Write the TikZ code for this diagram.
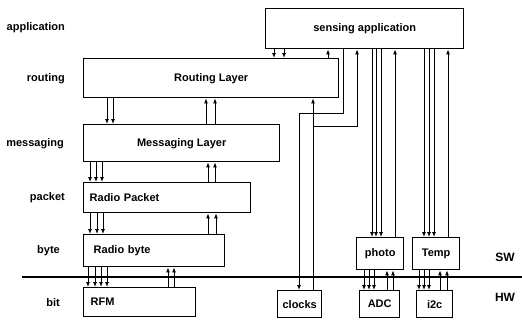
\documentclass[tikz,border=0pt]{standalone}
\usepackage{fontspec}
\setmainfont{Liberation Sans}
\usetikzlibrary{positioning,arrows.meta}
\tikzset{
  layerbox/.style={draw,line width=1.4pt,inner sep=0pt,anchor=north west,
    font=\bfseries\fontsize{11}{13}\selectfont},
  leftbox/.style={align=left},
  levellabel/.style={anchor=east,inner sep=0pt,font=\bfseries\fontsize{11}{13}\selectfont},
  sidelabel/.style={inner sep=0pt,font=\bfseries\fontsize{12}{14}\selectfont},
  flow/.style={->,>={Latex[length=5pt,width=4pt]},line width=0.9pt},
}
\begin{document}
\begin{tikzpicture}[x=1pt,y=-1pt]
\useasboundingbox (0,0) rectangle (522,324);

\node[layerbox,minimum width=198pt,minimum height=40pt] (sensing) at (265,8) {sensing application};
\node[layerbox,minimum width=255pt,minimum height=39pt] (routing) at (83,58) {Routing Layer};
\node[layerbox,minimum width=196pt,minimum height=37pt] (messaging) at (83,124) {Messaging Layer};
\node[layerbox,leftbox,text width=155pt,inner xsep=6pt,minimum height=30pt] (packet) at (83,182) {Radio Packet};
\node[layerbox,leftbox,text width=121pt,inner xsep=10pt,minimum height=32pt] (radiobyte) at (83,234) {Radio byte};
\node[layerbox,leftbox,text width=98pt,inner xsep=7pt,minimum height=29pt] (rfm) at (83,287) {RFM};
\node[layerbox,minimum width=44pt,minimum height=27pt] (clocks) at (277,290) {clocks};
\node[layerbox,minimum width=40pt,minimum height=27pt] (adc) at (359,290) {ADC};
\node[layerbox,minimum width=36pt,minimum height=27pt] (iic) at (416,290) {i2c};
\node[layerbox,minimum width=47pt,minimum height=32pt] (photo) at (356,237) {photo};
\node[layerbox,minimum width=47pt,minimum height=32pt] (temp) at (412,237) {Temp};

\node[levellabel] (lapp) at (65,28) {application};
\node[levellabel,left=18pt of routing] (lrouting) {routing};
\node[levellabel,left=19pt of messaging] (lmessaging) {messaging};
\node[levellabel,left=18pt of packet] (lpacket) {packet};
\node[levellabel,left=23pt of radiobyte] (lbyte) {byte};
\node[levellabel,left=23pt of rfm] (lbit) {bit};
\node[sidelabel] (sw) at (505,257) {SW};
\node[sidelabel] (hw) at (505,297) {HW};

\coordinate (hwstart) at (22,277);
\coordinate (hwend) at (522,277);
\draw[line width=2.6pt] (hwstart) -- (hwend);

\draw[flow] ([xshift=9pt]sensing.south west) -- ([xshift=191pt]routing.north west);
\draw[flow] ([xshift=19pt]sensing.south west) -- ([xshift=201pt]routing.north west);
\draw[flow] ([xshift=245pt]routing.north west) -- ([xshift=63pt]sensing.south west);

\draw[flow] ([xshift=78pt]sensing.south west) -- ++(0,64) -| ([xshift=22pt]clocks.north west);
\draw[flow] ([xshift=36pt]clocks.north west) -- ([xshift=230pt]routing.south west);
\draw[flow] ([xshift=36pt]clocks.north west) -- ++(0,-164) -| ([xshift=92pt]sensing.south west);

\draw[flow] ([xshift=107pt]sensing.south west) -- ([xshift=16pt]photo.north west);
\draw[flow] ([xshift=111pt]sensing.south west) -- ([xshift=20pt]photo.north west);
\draw[flow] ([xshift=116pt]sensing.south west) -- ([xshift=25pt]photo.north west);
\draw[flow] ([xshift=39pt]photo.north west) -- ([xshift=130pt]sensing.south west);

\draw[flow] ([xshift=159pt]sensing.south west) -- ([xshift=12pt]temp.north west);
\draw[flow] ([xshift=164pt]sensing.south west) -- ([xshift=17pt]temp.north west);
\draw[flow] ([xshift=169pt]sensing.south west) -- ([xshift=22pt]temp.north west);
\draw[flow] ([xshift=36pt]temp.north west) -- ([xshift=183pt]sensing.south west);

\draw[flow] ([xshift=24pt]routing.south west) -- ([xshift=24pt]messaging.north west);
\draw[flow] ([xshift=30pt]routing.south west) -- ([xshift=30pt]messaging.north west);
\draw[flow] ([xshift=123pt]messaging.north west) -- ([xshift=123pt]routing.south west);
\draw[flow] ([xshift=132pt]messaging.north west) -- ([xshift=132pt]routing.south west);

\draw[flow] ([xshift=7pt]messaging.south west) -- ([xshift=7pt]packet.north west);
\draw[flow] ([xshift=13pt]messaging.south west) -- ([xshift=13pt]packet.north west);
\draw[flow] ([xshift=19pt]messaging.south west) -- ([xshift=19pt]packet.north west);
\draw[flow] ([xshift=125pt]packet.north west) -- ([xshift=125pt]messaging.south west);
\draw[flow] ([xshift=132pt]packet.north west) -- ([xshift=132pt]messaging.south west);

\draw[flow] ([xshift=7pt]packet.south west) -- ([xshift=7pt]radiobyte.north west);
\draw[flow] ([xshift=14pt]packet.south west) -- ([xshift=14pt]radiobyte.north west);
\draw[flow] ([xshift=20pt]packet.south west) -- ([xshift=20pt]radiobyte.north west);
\draw[flow] ([xshift=125pt]radiobyte.north west) -- ([xshift=125pt]packet.south west);
\draw[flow] ([xshift=133pt]radiobyte.north west) -- ([xshift=133pt]packet.south west);

\draw[flow] ([xshift=5pt]radiobyte.south west) -- ([xshift=5pt]rfm.north west);
\draw[flow] ([xshift=12pt]radiobyte.south west) -- ([xshift=12pt]rfm.north west);
\draw[flow] ([xshift=18pt]radiobyte.south west) -- ([xshift=18pt]rfm.north west);
\draw[flow] ([xshift=24pt]radiobyte.south west) -- ([xshift=24pt]rfm.north west);
\draw[flow] ([xshift=85pt]rfm.north west) -- ([xshift=85pt]radiobyte.south west);
\draw[flow] ([xshift=91pt]rfm.north west) -- ([xshift=91pt]radiobyte.south west);

\draw[flow] ([xshift=8pt]photo.south west) -- ([xshift=5pt]adc.north west);
\draw[flow] ([xshift=13pt]photo.south west) -- ([xshift=10pt]adc.north west);
\draw[flow] ([xshift=18pt]photo.south west) -- ([xshift=15pt]adc.north west);
\draw[flow] ([xshift=28pt]adc.north west) -- ([xshift=31pt]photo.south west);
\draw[flow] ([xshift=34pt]adc.north west) -- ([xshift=37pt]photo.south west);

\draw[flow] ([xshift=7pt]temp.south west) -- ([xshift=3pt]iic.north west);
\draw[flow] ([xshift=12pt]temp.south west) -- ([xshift=8pt]iic.north west);
\draw[flow] ([xshift=17pt]temp.south west) -- ([xshift=13pt]iic.north west);
\draw[flow] ([xshift=24pt]iic.north west) -- ([xshift=28pt]temp.south west);
\draw[flow] ([xshift=31pt]iic.north west) -- ([xshift=35pt]temp.south west);

\end{tikzpicture}
\end{document}
